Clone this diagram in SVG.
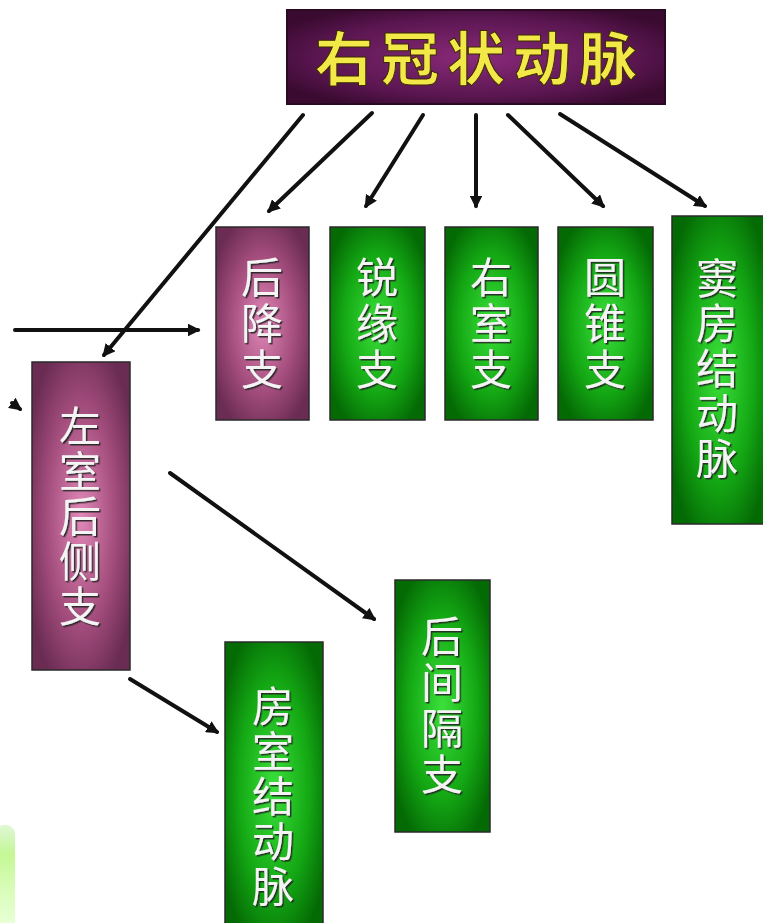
<svg xmlns="http://www.w3.org/2000/svg" width="763" height="923" viewBox="0 0 763 923">
<defs>
  <radialGradient id="gGreen" cx="50%" cy="50%" r="60%">
    <stop offset="0" stop-color="#3ae03a"/>
    <stop offset="0.6" stop-color="#14a814"/>
    <stop offset="1" stop-color="#046a04"/>
  </radialGradient>
  <radialGradient id="gPink" cx="50%" cy="50%" r="60%">
    <stop offset="0" stop-color="#e088b8"/>
    <stop offset="0.6" stop-color="#a24c7c"/>
    <stop offset="1" stop-color="#6a2c52"/>
  </radialGradient>
  <radialGradient id="gTop" cx="50%" cy="50%" r="60%">
    <stop offset="0" stop-color="#8a2a7a"/>
    <stop offset="0.7" stop-color="#5a1650"/>
    <stop offset="1" stop-color="#3a0a30"/>
  </radialGradient>
  <linearGradient id="gLeaf" x1="0" y1="0" x2="0" y2="1">
    <stop offset="0" stop-color="#c0f0a8" stop-opacity="0.5"/>
    <stop offset="0.3" stop-color="#c4f894"/>
    <stop offset="1" stop-color="#d8ffb8" stop-opacity="0.6"/>
  </linearGradient>
  <filter id="emb" x="-20%" y="-20%" width="140%" height="140%">
    <feDropShadow dx="1.5" dy="1.5" stdDeviation="0.6" flood-color="#202020" flood-opacity="0.9"/>
  </filter>
  <marker id="arr" viewBox="0 0 10 10" refX="8" refY="5" markerWidth="3.2" markerHeight="3.2" orient="auto">
    <path d="M0,0 L10,5 L0,10 z" fill="#111"/>
  </marker>
  <style>
    .box { stroke: #2a2a2a; stroke-width: 1.5; }
    .green { fill: url(#gGreen); }
    .pink { fill: url(#gPink); }
    .vt { font-family: "Noto Sans CJK SC", "Noto Sans", sans-serif; font-size: 42px; fill: #f4f4f4; text-anchor: middle; filter: url(#emb); }
    .title { font-family: "Noto Sans CJK SC", "Noto Sans", sans-serif; font-size: 58px; font-weight: bold; fill: #f2e848; stroke: #3a2a00; stroke-width: 1; text-anchor: middle; letter-spacing: 8px; }
    .conn line { stroke: #111; stroke-width: 4; stroke-linecap: round; }
  </style>
</defs>
<rect width="763" height="923" fill="#ffffff"/>
<path d="M0,826 Q10,822 15,832 L15,923 L0,923 z" fill="url(#gLeaf)"/>

<g class="conn">
  <line x1="303" y1="115" x2="104" y2="355" marker-end="url(#arr)"/>
  <line x1="372" y1="113" x2="269" y2="211" marker-end="url(#arr)"/>
  <line x1="423" y1="115" x2="366" y2="206" marker-end="url(#arr)"/>
  <line x1="476" y1="115" x2="476" y2="206" marker-end="url(#arr)"/>
  <line x1="508" y1="115" x2="603" y2="206" marker-end="url(#arr)"/>
  <line x1="560" y1="114" x2="705" y2="206" marker-end="url(#arr)"/>
  <line x1="15" y1="330" x2="198" y2="330" marker-end="url(#arr)"/>
  <line x1="12" y1="403" x2="20" y2="409" marker-end="url(#arr)"/>
  <line x1="170" y1="473" x2="374" y2="619" marker-end="url(#arr)"/>
  <line x1="130" y1="679" x2="217" y2="732" marker-end="url(#arr)"/>
</g>

<g id="n-rca">
  <rect x="287" y="10" width="378" height="94" fill="url(#gTop)" stroke="#2a0a22" stroke-width="2"/>
  <text class="title" x="480" y="80">右冠状动脉</text>
</g>

<g id="n-houjiang">
  <rect class="box pink" x="216" y="227" width="93" height="193"/>
  <text class="vt" x="262" y="293"><tspan x="262">后</tspan><tspan x="262" dy="46">降</tspan><tspan x="262" dy="46">支</tspan></text>
</g>

<g id="n-ruiyuan">
  <rect class="box green" x="330" y="227" width="95" height="193"/>
  <text class="vt" x="377" y="293"><tspan x="377">锐</tspan><tspan x="377" dy="46">缘</tspan><tspan x="377" dy="46">支</tspan></text>
</g>

<g id="n-youshi">
  <rect class="box green" x="445" y="227" width="93" height="193"/>
  <text class="vt" x="491" y="293"><tspan x="491">右</tspan><tspan x="491" dy="46">室</tspan><tspan x="491" dy="46">支</tspan></text>
</g>

<g id="n-yuanzhui">
  <rect class="box green" x="558" y="227" width="95" height="193"/>
  <text class="vt" x="605" y="293"><tspan x="605">圆</tspan><tspan x="605" dy="46">锥</tspan><tspan x="605" dy="46">支</tspan></text>
</g>

<g id="n-doufang">
  <rect class="box green" x="672" y="216" width="95" height="308"/>
  <text class="vt" x="717" y="294"><tspan x="717">窦</tspan><tspan x="717" dy="45">房</tspan><tspan x="717" dy="45">结</tspan><tspan x="717" dy="45">动</tspan><tspan x="717" dy="45">脉</tspan></text>
</g>

<g id="n-zuoshi">
  <rect class="box pink" x="32" y="362" width="98" height="308"/>
  <text class="vt" x="80" y="442"><tspan x="80">左</tspan><tspan x="80" dy="45">室</tspan><tspan x="80" dy="45">后</tspan><tspan x="80" dy="45">侧</tspan><tspan x="80" dy="45">支</tspan></text>
</g>

<g id="n-houjiange">
  <rect class="box green" x="395" y="580" width="95" height="252"/>
  <text class="vt" x="442" y="652"><tspan x="442">后</tspan><tspan x="442" dy="46">间</tspan><tspan x="442" dy="46">隔</tspan><tspan x="442" dy="46">支</tspan></text>
</g>

<g id="n-fangshi">
  <rect class="box green" x="225" y="642" width="98" height="290"/>
  <text class="vt" x="273" y="722"><tspan x="273">房</tspan><tspan x="273" dy="45">室</tspan><tspan x="273" dy="45">结</tspan><tspan x="273" dy="45">动</tspan><tspan x="273" dy="45">脉</tspan></text>
</g>
</svg>
